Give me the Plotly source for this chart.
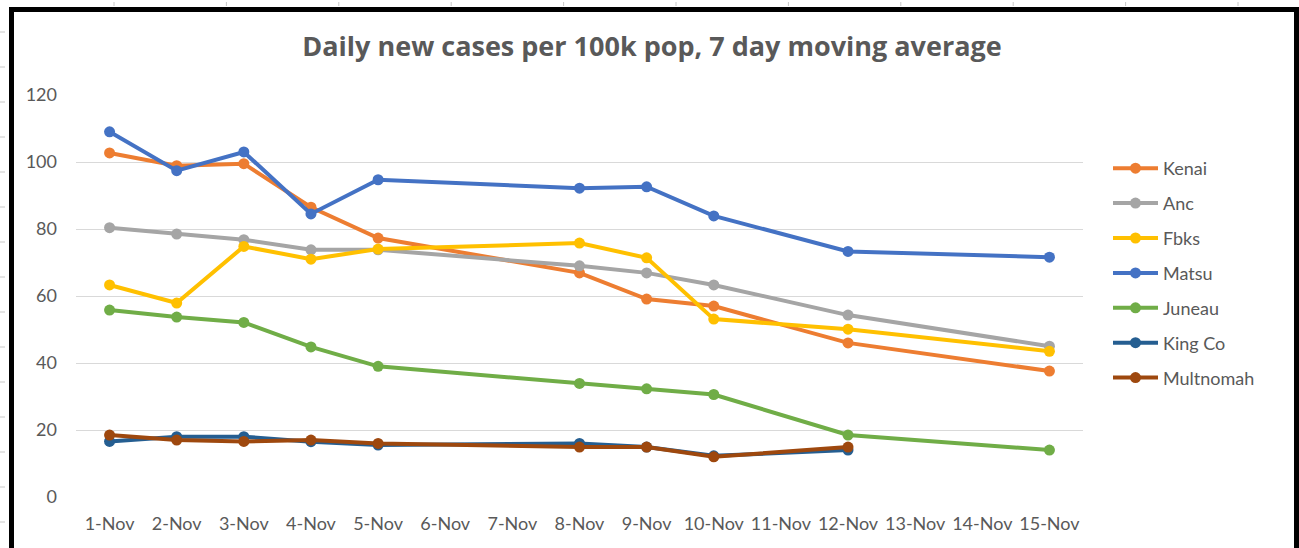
import plotly.graph_objects as go

dates = ["1-Nov", "2-Nov", "3-Nov", "4-Nov", "5-Nov", "6-Nov", "7-Nov", "8-Nov",
         "9-Nov", "10-Nov", "11-Nov", "12-Nov", "13-Nov", "14-Nov", "15-Nov"]

kenai =     [102.7, 98.9, 99.5, 86.5, 77.3, None, None, 66.9, 59.1, 57.0, None, 46.0, None, None, 37.6]
anc =       [80.4, 78.5, 76.8, 73.8, 73.8, None, None, 69.0, 66.9, 63.3, None, 54.3, None, None, 45.0]
fbks =      [63.3, 57.9, 74.8, 71.0, 74.0, None, None, 75.8, 71.4, 53.1, None, 50.1, None, None, 43.5]
matsu =     [109.0, 97.4, 103.0, 84.5, 94.7, None, None, 92.2, 92.6, 83.9, None, 73.3, None, None, 71.6]
juneau =    [55.8, 53.7, 52.1, 44.8, 39.0, None, None, 33.9, 32.3, 30.6, None, 18.5, None, None, 14.0]
king_co =   [16.6, 18.0, 18.0, 16.5, 15.5, None, None, 16.0, 14.9, 12.3, None, 14.0, None, None, None]
multnomah = [18.5, 17.0, 16.6, 17.0, 16.0, None, None, 14.9, 14.9, 12.0, None, 14.9, None, None, None]

series_names = ["Kenai", "Anc", "Fbks", "Matsu", "Juneau", "King Co", "Multnomah"]
series_values = [kenai, anc, fbks, matsu, juneau, king_co, multnomah]
colors = ["#ED7D31", "#A5A5A5", "#FFC000", "#4472C4", "#70AD47", "#255E91", "#9E480E"]

y_ticks = [0, 20, 40, 60, 80, 100, 120]

FONT = "Lato, 'Open Sans', sans-serif"
GRAY = "#595959"

fig = go.Figure()
for name, vals, col in zip(series_names, series_values, colors):
    fig.add_trace(go.Scatter(
        x=dates, y=vals, name=name, mode="lines+markers",
        connectgaps=True, legendgroup=name,
        line=dict(color=col, width=4),
        marker=dict(color=col, size=11),
    ))

# Plot area in pixels
W, H = 1299, 548
L, R, T, B = 76, 1083, 95, 497
pw, ph = R - L, B - T

def px(xp):
    return (xp - L) / pw

def py(yp):
    return (B - yp) / ph

shapes = []
# chart border
shapes.append(dict(type="rect", xref="paper", yref="paper",
                   x0=px(11.5), x1=px(1296.5), y0=py(565), y1=py(9.5),
                   line=dict(color="black", width=5), fillcolor="rgba(0,0,0,0)", layer="above"))
# faint spreadsheet gridline ticks outside the border
for i in range(15):
    yy = 32 + 35 * i
    if yy > 545:
        break
    shapes.append(dict(type="line", xref="paper", yref="paper",
                       x0=px(0), x1=px(5), y0=py(yy), y1=py(yy),
                       line=dict(color="#C8C8C8", width=1)))
for i in range(11):
    xx = 114 + 112.4 * i
    shapes.append(dict(type="line", xref="paper", yref="paper",
                       x0=px(xx), x1=px(xx), y0=py(2), y1=py(6),
                       line=dict(color="#C8C8C8", width=1)))

fig.update_layout(
    width=W, height=H,
    margin=dict(l=L, r=W - R, t=T, b=H - B, pad=0),
    paper_bgcolor="white", plot_bgcolor="white",
    title=dict(text="<b>Daily new cases per 100k pop, 7 day moving average</b>",
               x=652 / W, xanchor="center", y=1 - 47 / H, yanchor="middle",
               font=dict(family="'Open Sans', Lato, sans-serif", size=27, color=GRAY)),
    font=dict(family=FONT, size=18, color=GRAY),
    xaxis=dict(type="category", categoryorder="array", categoryarray=dates,
               range=[-0.5, len(dates) - 0.5], showgrid=False, zeroline=False,
               showline=False, ticks="", tickfont=dict(size=18, color=GRAY),
               ticklabelstandoff=14, fixedrange=True),
    yaxis=dict(range=[0, 120], tickvals=y_ticks, showgrid=True, gridcolor="#D9D9D9",
               gridwidth=1, zeroline=False, showline=False, ticks="",
               tickfont=dict(size=18, color=GRAY), ticklabelstandoff=18, fixedrange=True),
    legend=dict(x=px(1108), xanchor="left", y=py(150), yanchor="top",
                font=dict(family=FONT, size=18, color=GRAY),
                itemwidth=45, tracegroupgap=8.5, bgcolor="rgba(0,0,0,0)",
                traceorder="grouped"),
    shapes=shapes,
    showlegend=True,
)

fig.write_html("out.html", post_script="document.body.style.margin='0';",
               config={"displayModeBar": False})
